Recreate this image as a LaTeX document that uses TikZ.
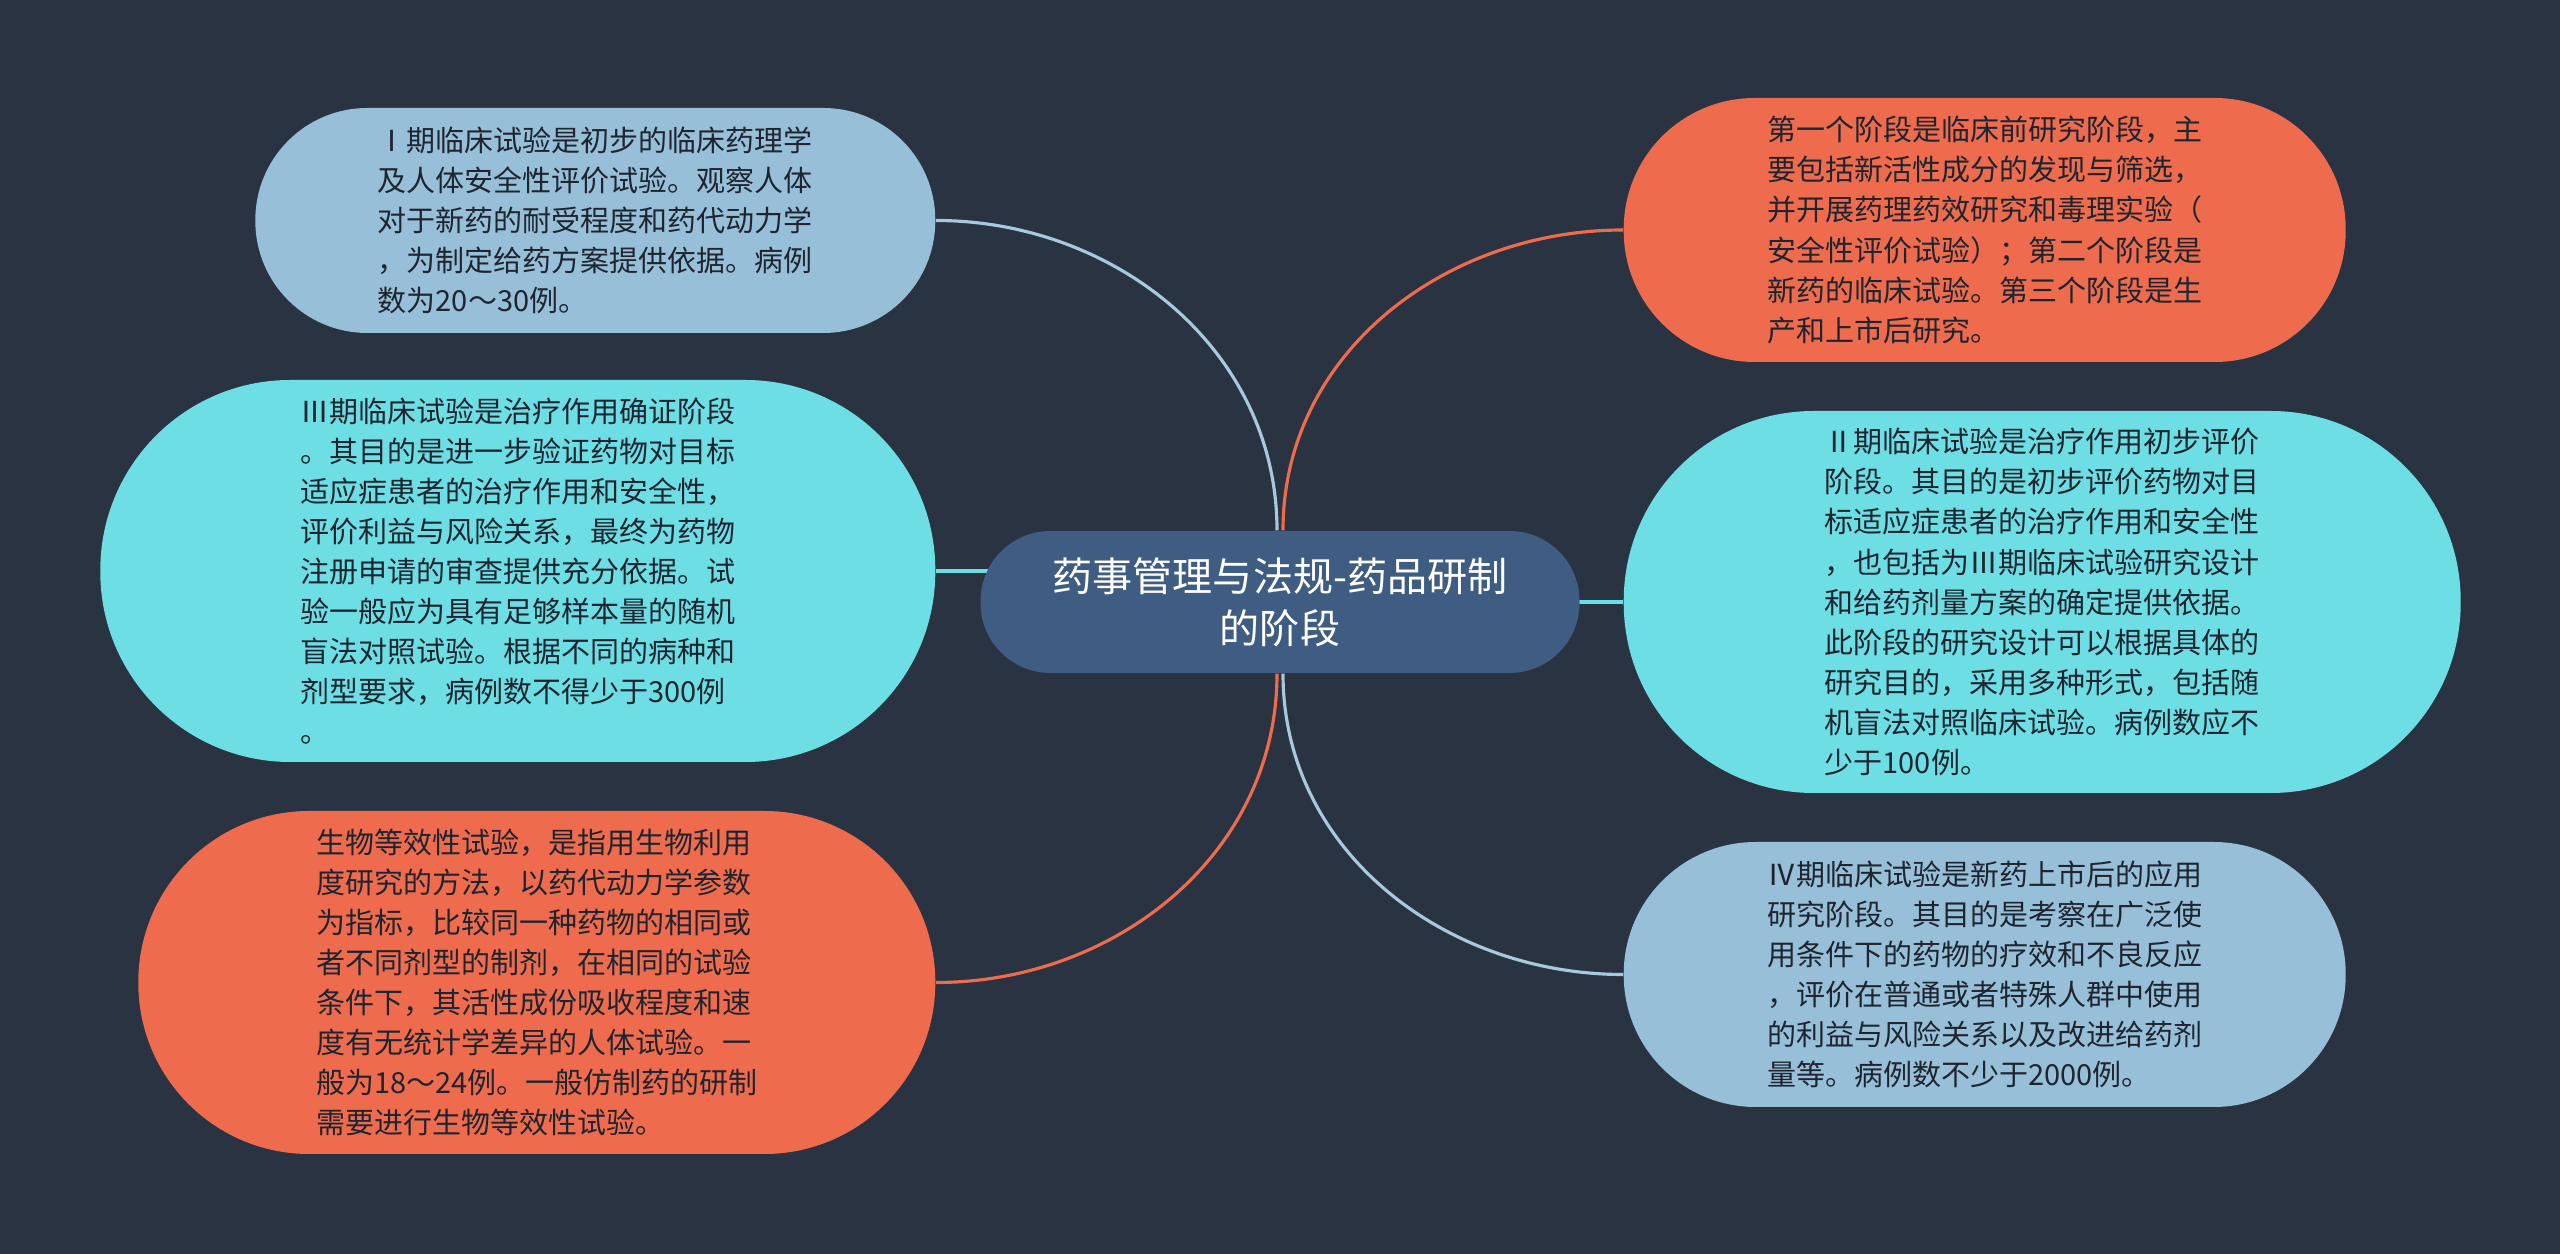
\documentclass[tikz,border=0pt]{standalone}
\usepackage{fontspec}
\setmainfont{Noto Sans CJK SC}

\definecolor{bgdark}{HTML}{2A3342}
\definecolor{nodeblue}{HTML}{97BFD8}
\definecolor{nodecyan}{HTML}{6DDFE4}
\definecolor{nodeorange}{HTML}{EE6C4D}
\definecolor{noderoot}{HTML}{3F5D82}
\definecolor{leaftext}{HTML}{1E2530}

\pgfdeclarelayer{bg}
\pgfdeclarelayer{links}
\pgfsetlayers{bg,links,main}

\begin{document}
\begin{tikzpicture}[
	% Style for the leaf text boxes
	leaf/.style={
		rectangle,
		draw=none,
		text=leaftext,
		align=left,
		font=\fontsize{8.25pt}{11.4pt}\selectfont,
		inner sep=0pt
	},
	lightblue/.style={leaf, fill=nodeblue},
	cyanbox/.style={leaf, fill=nodecyan},
	orangebox/.style={leaf, fill=nodeorange},
	% Style for the central topic
	root/.style={
		rectangle,
		rounded corners=0.7cm,
		fill=noderoot,
		text=white,
		align=center,
		font=\fontsize{11.4pt}{14.8pt}\selectfont,
		minimum width=5.99cm,
		minimum height=1.42cm
	},
	link/.style={line width=0.9pt}
	]
	\useasboundingbox (0,0) rectangle (25.6,-12.54);
	\begin{pgfonlayer}{bg}
		\fill[bgdark] (0,0) rectangle (25.6,-12.54);
	\end{pgfonlayer}
	
	\node[root] (root) at (12.80,-6.02) {药事管理与法规-药品研制\\的阶段};
	
	% Left side
	\node[lightblue, minimum width=6.8cm, minimum height=2.25cm, rounded corners=1.12cm, anchor=east] (p1) at (9.36,-2.205) {Ⅰ期临床试验是初步的临床药理学\\及人体安全性评价试验。观察人体\\对于新药的耐受程度和药代动力学\\，为制定给药方案提供依据。病例\\数为20～30例。}; % phase I
	\node[cyanbox, minimum width=8.35cm, minimum height=3.82cm, rounded corners=1.9cm, anchor=east] (p3) at (9.36,-5.71) {Ⅲ期临床试验是治疗作用确证阶段\\。其目的是进一步验证药物对目标\\适应症患者的治疗作用和安全性，\\评价利益与风险关系，最终为药物\\注册申请的审查提供充分依据。试\\验一般应为具有足够样本量的随机\\盲法对照试验。根据不同的病种和\\剂型要求，病例数不得少于300例\\。}; % phase III
	\node[orangebox, minimum width=7.97cm, minimum height=3.43cm, rounded corners=1.71cm, anchor=east] (be) at (9.36,-9.825) {生物等效性试验，是指用生物利用\\度研究的方法，以药代动力学参数\\为指标，比较同一种药物的相同或\\者不同剂型的制剂，在相同的试验\\条件下，其活性成份吸收程度和速\\度有无统计学差异的人体试验。一\\般为18～24例。一般仿制药的研制\\需要进行生物等效性试验。}; % bioequivalence
	
	% Right side
	\node[orangebox, minimum width=7.22cm, minimum height=2.64cm, rounded corners=1.31cm, anchor=west] (pre) at (16.23,-2.30) {第一个阶段是临床前研究阶段，主\\要包括新活性成分的发现与筛选，\\并开展药理药效研究和毒理实验（\\安全性评价试验）；第二个阶段是\\新药的临床试验。第三个阶段是生\\产和上市后研究。}; % stages
	\node[cyanbox, minimum width=8.37cm, minimum height=3.82cm, rounded corners=1.9cm, anchor=west] (p2) at (16.23,-6.02) {Ⅱ期临床试验是治疗作用初步评价\\阶段。其目的是初步评价药物对目\\标适应症患者的治疗作用和安全性\\，也包括为Ⅲ期临床试验研究设计\\和给药剂量方案的确定提供依据。\\此阶段的研究设计可以根据具体的\\研究目的，采用多种形式，包括随\\机盲法对照临床试验。病例数应不\\少于100例。}; % phase II
	\node[lightblue, minimum width=7.22cm, minimum height=2.65cm, rounded corners=1.32cm, anchor=west] (p4) at (16.23,-9.745) {Ⅳ期临床试验是新药上市后的应用\\研究阶段。其目的是考察在广泛使\\用条件下的药物的疗效和不良反应\\，评价在普通或者特殊人群中使用\\的利益与风险关系以及改进给药剂\\量等。病例数不少于2000例。}; % phase IV
	
	\begin{pgfonlayer}{links}
		\draw[link, nodeblue!85!white] ([xshift=-0.03cm]root.north) to[out=90, in=0] (p1.east);
		\draw[link, nodeorange] ([xshift=0.03cm]root.north) to[out=90, in=180] (pre.west);
		\draw[link, nodecyan] (p3.east) -- (root.center |- p3.east);
		\draw[link, nodecyan] (root.center) -- (p2.west);
		\draw[link, nodeorange] ([xshift=-0.03cm]root.south) to[out=-90, in=0] (be.east);
		\draw[link, nodeblue!85!white] ([xshift=0.03cm]root.south) to[out=-90, in=180] (p4.west);
	\end{pgfonlayer}
	
\end{tikzpicture}
\end{document}
